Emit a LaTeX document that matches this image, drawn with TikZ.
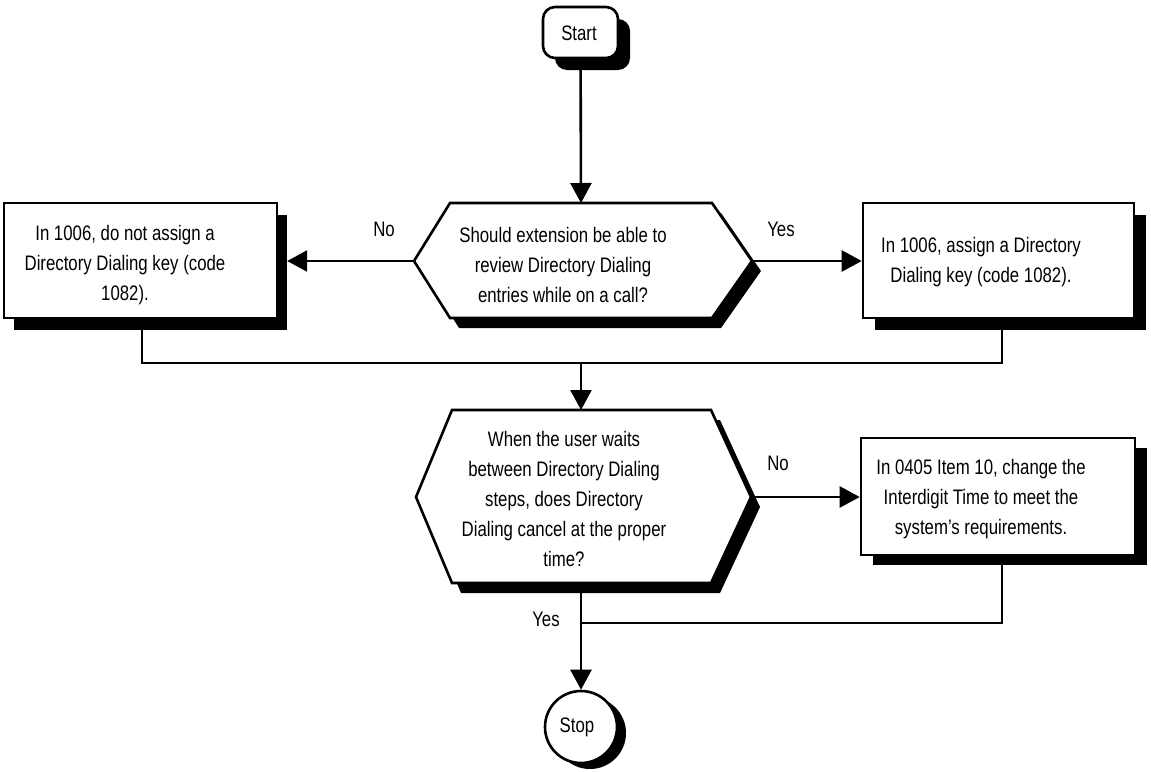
\documentclass[tikz,border=0pt]{standalone}
\usepackage{fontspec}
\setmainfont[FakeStretch=0.8]{Liberation Sans}
\usetikzlibrary{arrows.meta}
\begin{document}
\begin{tikzpicture}[x=1pt,y=-1pt,
  outline/.style={draw=black,fill=white,line width=2.6pt,line join=miter,inner sep=0pt},
  shade/.style={fill=black,draw=none,inner sep=0pt},
  txt/.style={align=center,font=\fontsize{21}{30}\selectfont,inner sep=0pt},
  lbl/.style={font=\fontsize{21}{24}\selectfont,inner sep=0pt},
  wire/.style={line width=2.6pt},
  flow/.style={line width=2.6pt,-{Triangle[length=20pt,width=21pt]}}
]
\useasboundingbox (0,0) rectangle (1151,771);

% ---- Start terminal ----
\node[shade,rounded corners=12pt,minimum width=75pt,minimum height=51pt] (starts) at (592.5,44.5) {};
\node[outline,rounded corners=12pt,minimum width=75pt,minimum height=51pt] (start) at (580.5,32.5) {};
\node[txt] (starttxt) at (579,33) {Start};

% ---- First decision ----
\fill[shift={(9,10)}] (414,261) -- (450,203) -- (712,203) -- (752,261) -- (712,318) -- (450,318) -- cycle;
\filldraw[fill=white,line width=2.6pt,line join=miter]
  (414,261) coordinate (d1w) -- (450,203) -- (712,203) -- (752,261) coordinate (d1e)
  -- (712,318) -- (450,318) -- cycle;
\coordinate (d1n) at (581,203);
\coordinate (d1s) at (581,318);
\node[txt] (d1txt) at (563,265) {Should extension be able to\\review Directory Dialing\\entries while on a call?};

% ---- Left action box ----
\node[shade,minimum width=273pt,minimum height=115pt] (L1s) at (150.5,272.5) {};
\node[outline,minimum width=273pt,minimum height=115pt] (L1) at (140.5,260.5) {};
\node[txt] (L1txt) at (125,265) {In 1006, do not assign a\\Directory Dialing key (code\\1082).};

% ---- Right action box ----
\node[shade,minimum width=271pt,minimum height=115pt] (R1s) at (1010.5,272.5) {};
\node[outline,minimum width=271pt,minimum height=115pt] (R1) at (998.5,260.5) {};
\node[txt] (R1txt) at (981,262) {In 1006, assign a Directory\\Dialing key (code 1082).};

% ---- Second decision ----
\fill[shift={(9,10)}] (416,497) -- (452,410) -- (711,410) -- (751,497) -- (711,583) -- (452,583) -- cycle;
\filldraw[fill=white,line width=2.6pt,line join=miter]
  (416,497) -- (452,410) -- (711,410) -- (751,497) coordinate (d2e)
  -- (711,583) -- (452,583) -- cycle;
\coordinate (d2n) at (581,410);
\coordinate (d2s) at (581,583);
\node[txt] (d2txt) at (564,499) {When the user waits\\between Directory Dialing\\steps, does Directory\\Dialing cancel at the proper\\time?};

% ---- Interdigit box ----
\node[shade,minimum width=274pt,minimum height=117pt] (R2s) at (1010,506.5) {};
\node[outline,minimum width=274pt,minimum height=117pt] (R2) at (998,496.5) {};
\node[txt] (R2txt) at (981,499) {In 0405 Item 10, change the\\Interdigit Time to meet the\\system's requirements.};

% ---- Stop terminal ----
\node[shade,circle,minimum size=72pt] (stops) at (590,733) {};
\node[outline,circle,minimum size=72pt] (stop) at (581,727) {};
\node[txt] (stoptxt) at (577,727) {Stop};

% ---- Connectors ----
\draw[flow] (start) -- (d1n);
\draw[flow] (d1w) -- (L1s.east |- d1w);
\draw[flow] (d1e) -- (R1.west |- d1e);
\coordinate (j1l) at (142,363);
\coordinate (j1r) at (1002,363);
\coordinate (j1) at (581,363);
\draw[wire] (L1s.south -| j1l) -- (j1l) -- (j1r) -- (R1s.south -| j1r);
\draw[flow] (j1) -- (d2n);
\draw[flow] (d2e) -- (R2.west |- d2e);
\coordinate (j2r) at (1002,623);
\coordinate (j2) at (581,623);
\draw[wire] (R2s.south -| j2r) -- (j2r) -- (j2);
\draw[flow] (d2s) -- (stop.north);

% ---- Branch labels ----
\node[lbl] (no1) at (384,229) {No};
\node[lbl] (yes1) at (781,229) {Yes};
\node[lbl] (no2) at (778,463) {No};
\node[lbl] (yes2) at (546,619) {Yes};
\end{tikzpicture}
\end{document}
